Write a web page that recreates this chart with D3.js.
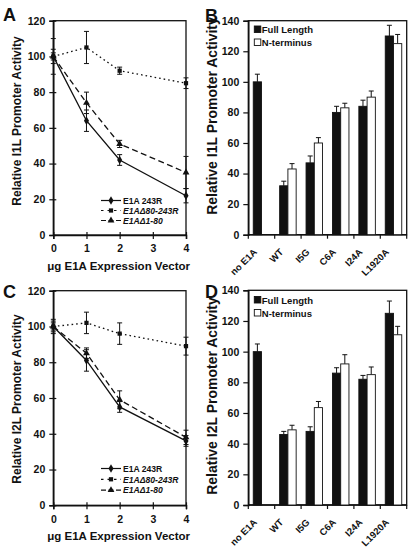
<!DOCTYPE html>
<html><head><meta charset="utf-8">
<script src="https://cdn.jsdelivr.net/npm/d3@7"></script>
<style>
html,body{margin:0;padding:0;background:#fff;}
svg text{font-family:"Liberation Sans",Arial,sans-serif;font-weight:bold;fill:#111;}
</style></head>
<body>
<svg id="chart" width="416" height="552"></svg>
<script>
// ---------- DATA ----------
const doseTicks = [0, 1, 2, 3, 4];
const doses = [0, 1, 2, 4];
const lineSeriesNames = ["E1A 243R", "E1AΔ80-243R", "E1AΔ1-80"];

// Panel A (I1L)
const a243R = [100, 64, 42, 22];
const a243RErr = [4, 6, 3, 4];
const aD80 = [100, 105, 92, 85];
const aD80Err = [10, 9, 2, 3];
const aD180 = [100, 74, 51, 35];
const aD180Err = [2, 6, 2, 9];

// Panel C (I2L)
const c243R = [100, 81, 55, 36];
const c243RErr = [3, 6, 3, 3];
const cD80 = [100, 102, 96, 89];
const cD80Err = [4, 6, 6, 5];
const cD180 = [100, 85, 59, 38];
const cD180Err = [2, 3, 5, 4];

// Bar panels
const mutants = ["no E1A", "WT", "I5G", "C6A", "I24A", "L1920A"];
const barSeriesNames = ["Full Length", "N-terminus"];
const bFull = [100, 32, 47, 80, 84, 130];
const bFullErr = [5, 3, 4.5, 4, 4, 7];
const bNterm = [null, 43, 60, 83, 90, 125];
const bNtermErr = [null, 3.5, 3.5, 3, 4, 6];
const dFull = [100, 46, 48, 86, 82, 125];
const dFullErr = [5, 2, 3, 3.5, 2.5, 8];
const dNterm = [null, 49, 63.5, 92, 85, 111];
const dNtermErr = [null, 3, 4, 6, 5, 5.5];

const lineTicks = [0, 20, 40, 60, 80, 100, 120];
const barTicks = [0, 20, 40, 60, 80, 100, 120, 140];

// ---------- DRAW ----------
const svg = d3.select("#chart");
const ink = "#111";

function panelLetter(t, x, y) {
  svg.append("text").attr("x", x).attr("y", y).attr("font-size", 18).text(t);
}

function linePanel(opt) {
  const g = svg.append("g");
  const x = d3.scaleLinear().domain([0, 4]).range([opt.x0, opt.x1]);
  const y = d3.scaleLinear().domain([0, 120]).range([opt.y1, opt.y0]);
  g.append("rect").attr("x", opt.x0).attr("y", opt.y0).attr("width", opt.x1 - opt.x0)
    .attr("height", opt.y1 - opt.y0).attr("fill", "none").attr("stroke", ink).attr("stroke-width", 1.3);
  const ya = g.append("g").attr("transform", `translate(${opt.x0},0)`)
    .call(d3.axisLeft(y).tickValues(lineTicks).tickSize(4).tickPadding(4));
  ya.select(".domain").attr("stroke", ink).attr("stroke-width", 1.5);
  ya.selectAll(".tick line").attr("stroke", ink).attr("x2", -4).attr("x1", 3).attr("stroke-width", 1.2);
  ya.selectAll(".tick text").attr("font-size", 10.5).attr("font-family", null).attr("fill", ink);
  const xa = g.append("g").attr("transform", `translate(0,${opt.y1})`)
    .call(d3.axisBottom(x).tickValues(doseTicks).tickSize(4).tickPadding(6).tickFormat(d3.format("d")));
  xa.select(".domain").attr("stroke", ink).attr("stroke-width", 1.5);
  xa.selectAll(".tick line").attr("stroke", ink).attr("y1", -3).attr("y2", 4).attr("stroke-width", 1.2);
  xa.selectAll(".tick text").attr("font-size", 10.5).attr("font-family", null).attr("fill", ink);
  g.append("text").attr("x", (opt.x0 + opt.x1) / 2 - 1).attr("y", opt.xlabY)
    .attr("text-anchor", "middle").attr("font-size", 11.5).text("μg E1A Expression Vector");
  g.append("text").attr("transform", `translate(${opt.ylabX},${opt.ylabY}) rotate(-90)`)
    .attr("text-anchor", "middle").attr("font-size", 12).text(opt.ylab);

  const series = [
    {name: lineSeriesNames[0], v: opt.s1, e: opt.e1, dash: null, sym: d3.symbolDiamond, size: 22, italic: false},
    {name: lineSeriesNames[1], v: opt.s2, e: opt.e2, dash: "1.6,3", sym: d3.symbolSquare, size: 18, italic: true},
    {name: lineSeriesNames[2], v: opt.s3, e: opt.e3, dash: "6,3.5", sym: d3.symbolTriangle, size: 20, italic: true}
  ];
  const line = d3.line().x((d, i) => x(doses[i])).y(d => y(d));
  series.forEach(s => {
    const sg = g.append("g");
    s.v.forEach((v, i) => {
      const cx = x(doses[i]);
      sg.append("line").attr("x1", cx).attr("x2", cx).attr("y1", y(v - s.e[i])).attr("y2", y(v + s.e[i]))
        .attr("stroke", ink).attr("stroke-width", 1);
      [v - s.e[i], v + s.e[i]].forEach(ev => {
        sg.append("line").attr("x1", cx - 2.5).attr("x2", cx + 2.5).attr("y1", y(ev)).attr("y2", y(ev))
          .attr("stroke", ink).attr("stroke-width", 1);
      });
    });
    sg.append("path").attr("d", line(s.v)).attr("fill", "none").attr("stroke", ink)
      .attr("stroke-width", 1.3).attr("stroke-dasharray", s.dash);
    s.v.forEach((v, i) => {
      sg.append("path").attr("d", d3.symbol().type(s.sym).size(s.size)())
        .attr("transform", `translate(${x(doses[i])},${y(v)})`).attr("fill", ink);
    });
  });
  series.forEach((s, i) => {
    const ly = opt.legY + i * opt.legStep;
    g.append("line").attr("x1", opt.legX).attr("x2", opt.legX + 20).attr("y1", ly).attr("y2", ly)
      .attr("stroke", ink).attr("stroke-width", 1.2).attr("stroke-dasharray", s.dash ? (i === 1 ? "2.5,4" : "5,2.5") : null);
    g.append("path").attr("d", d3.symbol().type(s.sym).size(s.size)())
      .attr("transform", `translate(${opt.legX + 10},${ly})`).attr("fill", ink);
    g.append("text").attr("x", opt.legX + 22).attr("y", ly + 3.2).attr("font-size", 8.6)
      .attr("font-style", s.italic ? "italic" : "normal").text(s.name);
  });
}

function barPanel(opt) {
  const g = svg.append("g");
  const x = d3.scaleBand().domain(mutants).range([opt.x0, opt.x1]).padding(0);
  const sub = d3.scaleBand().domain(barSeriesNames).range([0, x.bandwidth()]).paddingInner(0).paddingOuter(0.6);
  const y = d3.scaleLinear().domain([0, 140]).range([opt.y1, opt.y0]);
  g.append("rect").attr("x", opt.x0).attr("y", opt.y0).attr("width", opt.x1 - opt.x0)
    .attr("height", opt.y1 - opt.y0).attr("fill", "none").attr("stroke", ink).attr("stroke-width", 1.3);
  const ya = g.append("g").attr("transform", `translate(${opt.x0},0)`)
    .call(d3.axisLeft(y).tickValues(barTicks).tickSize(5).tickPadding(4));
  ya.select(".domain").attr("stroke", ink).attr("stroke-width", 1.5);
  ya.selectAll(".tick line").attr("stroke", ink).attr("stroke-width", 1.2);
  ya.selectAll(".tick text").attr("font-size", 10.5).attr("font-family", null).attr("fill", ink);
  g.append("line").attr("x1", opt.x0).attr("x2", opt.x1).attr("y1", opt.y1).attr("y2", opt.y1)
    .attr("stroke", ink).attr("stroke-width", 1.5);
  const bounds = mutants.map(m => x(m)).concat([x(mutants[mutants.length - 1]) + x.bandwidth()]);
  bounds.forEach(bx => {
    g.append("line").attr("x1", bx).attr("x2", bx).attr("y1", opt.y1).attr("y2", opt.y1 + 4)
      .attr("stroke", ink).attr("stroke-width", 1.2);
  });
  mutants.forEach(m => {
    const cx = x(m) + x.bandwidth() / 2;
    g.append("text").attr("transform", `translate(${cx - 4},${opt.y1 + 18}) rotate(-45)`)
      .attr("text-anchor", "end").attr("font-size", 9.5).text(m);
  });
  g.append("text").attr("transform", `translate(${opt.ylabX},${opt.ylabY}) rotate(-90)`)
    .attr("text-anchor", "middle").attr("font-size", 14).text(opt.ylab);

  const sets = [{name: barSeriesNames[0], v: opt.full, e: opt.fullErr, fill: ink},
                {name: barSeriesNames[1], v: opt.nterm, e: opt.ntermErr, fill: "#fff"}];
  sets.forEach(s => {
    s.v.forEach((v, i) => {
      if (v == null) return;
      const bx = x(mutants[i]) + sub(s.name);
      const w = sub.bandwidth();
      const cx = bx + w / 2;
      g.append("line").attr("x1", cx).attr("x2", cx).attr("y1", y(v)).attr("y2", y(v + s.e[i]))
        .attr("stroke", ink).attr("stroke-width", 1);
      g.append("line").attr("x1", cx - 2.5).attr("x2", cx + 2.5).attr("y1", y(v + s.e[i])).attr("y2", y(v + s.e[i]))
        .attr("stroke", ink).attr("stroke-width", 1);
      g.append("rect").attr("x", bx).attr("y", y(v)).attr("width", w).attr("height", y(0) - y(v))
        .attr("fill", s.fill).attr("stroke", ink).attr("stroke-width", 0.9);
    });
  });
  sets.forEach((s, i) => {
    const ly = opt.legY + i * 13;
    g.append("rect").attr("x", opt.x0 + 6).attr("y", ly - 3.5).attr("width", 6.5).attr("height", 6.5)
      .attr("fill", s.fill).attr("stroke", ink).attr("stroke-width", 0.9);
    g.append("text").attr("x", opt.x0 + 13.5).attr("y", ly + 3.5).attr("font-size", 9.5).text(s.name);
  });
}

panelLetter("A", 3, 21);
panelLetter("B", 205, 22);
panelLetter("C", 3, 298);
panelLetter("D", 205, 298);

linePanel({x0: 53.3, x1: 186, y0: 20.7, y1: 235, xlabY: 270, ylabX: 21, ylabY: 121,
  ylab: "Relative I1L Promoter Activity",
  s1: a243R, e1: a243RErr, s2: aD80, e2: aD80Err, s3: aD180, e3: aD180Err,
  legX: 101, legY: 200.5, legStep: 10});
linePanel({x0: 53.3, x1: 186, y0: 290.7, y1: 505.3, xlabY: 540, ylabX: 21, ylabY: 399,
  ylab: "Relative I2L Promoter Activity",
  s1: c243R, e1: c243RErr, s2: cD80, e2: cD80Err, s3: cD180, e3: cD180Err,
  legX: 101, legY: 468.5, legStep: 10.8});
barPanel({x0: 248.3, x1: 406.7, y0: 20.7, y1: 234.7, ylabX: 217, ylabY: 116,
  ylab: "Relative I1L Promoter Activity", full: bFull, fullErr: bFullErr, nterm: bNterm, ntermErr: bNtermErr,
  legY: 29.5});
barPanel({x0: 248.3, x1: 406.7, y0: 290.3, y1: 505, ylabX: 217, ylabY: 396,
  ylab: "Relative I2L Promoter Activity", full: dFull, fullErr: dFullErr, nterm: dNterm, ntermErr: dNtermErr,
  legY: 300});
</script>
</body></html>
